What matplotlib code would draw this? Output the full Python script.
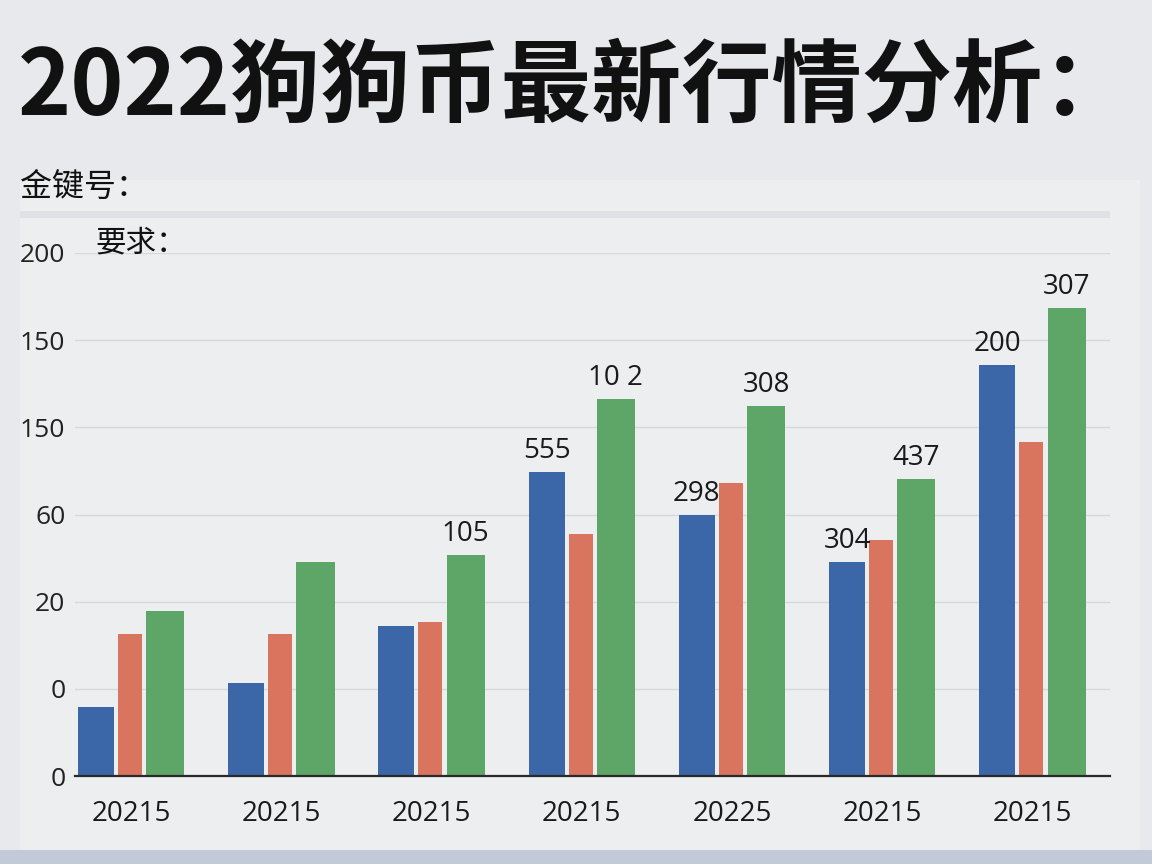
import matplotlib
matplotlib.use("Agg")
import matplotlib.pyplot as plt
from matplotlib.patches import Rectangle
import numpy as np

plt.rcParams['font.family'] = ['Noto Sans CJK SC', 'DejaVu Sans']

# ---- data (heights in gridline units) ----
categories = ["20215", "20215", "20215", "20215", "20225", "20215", "20215"]
blue_vals = [0.79, 1.07, 1.72, 3.49, 2.99, 2.46, 4.71]
red_vals = [1.63, 1.63, 1.77, 2.78, 3.36, 2.71, 3.83]
green_vals = [1.89, 2.45, 2.53, 4.33, 4.24, 3.41, 5.37]
ytick_labels = ["0", "0", "20", "60", "150", "150", "200"]
blue_labels = [None, None, None, "555", "298", "304", "200"]
green_labels = [None, None, "105", "10 2", "308", "437", "307"]

title = "2022狗狗币最新行情分析："
sub1 = "金键号："
sub2 = "要求："

BLUE = "#3b66a7"
RED = "#d9745f"
GREEN = "#5ea568"
NUMFONT = ["Open Sans", "DejaVu Sans"]

W, H = 1152, 864
fig = plt.figure(figsize=(W / 100, H / 100), dpi=100)
fig.patch.set_facecolor("#e8e9ec")

# lighter panel and decorations
fig.add_artist(Rectangle((20 / W, 1 - 850 / H), 1120 / W, 670 / H, transform=fig.transFigure,
                         facecolor="#edeef0", edgecolor="none", zorder=0))
fig.add_artist(Rectangle((0, 0), 1, 14 / H, transform=fig.transFigure,
                         facecolor="#c2c9d8", edgecolor="none", zorder=0))
fig.add_artist(Rectangle((20 / W, 1 - 218 / H), 1090 / W, 7 / H, transform=fig.transFigure,
                         facecolor="#e0e1e4", edgecolor="none", zorder=0))

fig.text(18 / W, 1 - 88 / H, title, fontsize=65, fontweight="heavy", color="#111111",
         ha="left", va="center")
fig.text(20 / W, 1 - 187 / H, sub1, fontsize=23, color="#111111", ha="left", va="center")
fig.text(95 / W, 1 - 243 / H, sub2, fontsize=22, color="#111111", ha="left", va="center")

ax_left, ax_right = 75, 1110
ax_bottom, ax_top = 776, 253
ax = fig.add_axes([ax_left / W, 1 - ax_bottom / H, (ax_right - ax_left) / W,
                   (ax_bottom - ax_top) / H])
ax.set_facecolor("none")

x = np.arange(len(categories))
ax.bar(x - 0.233, blue_vals, width=0.24, color=BLUE, zorder=3)
ax.bar(x - 0.007, red_vals, width=0.16, color=RED, zorder=3)
ax.bar(x + 0.228, green_vals, width=0.253, color=GREEN, zorder=3)

for i, lab in enumerate(blue_labels):
    if lab:
        ax.text(x[i] - 0.233, blue_vals[i] + 0.08, lab, ha="center", va="bottom",
                fontsize=20, color="#1a1a1a", family=NUMFONT, zorder=4)
for i, lab in enumerate(green_labels):
    if lab:
        ax.text(x[i] + 0.228, green_vals[i] + 0.08, lab, ha="center", va="bottom",
                fontsize=20, color="#1a1a1a", family=NUMFONT, zorder=4)

ax.set_xlim(-0.373, 6.517)
ax.set_ylim(0, 6)
ax.set_yticks(range(len(ytick_labels)))
ax.set_yticklabels(ytick_labels, family=NUMFONT, fontsize=19, color="#222222")
ax.set_xticks(x)
ax.set_xticklabels(categories, family=NUMFONT, fontsize=20, color="#1a1a1a")
ax.tick_params(axis="both", length=0)
ax.tick_params(axis="y", pad=7)
ax.tick_params(axis="x", pad=17)
ax.grid(axis="y", color="#d6d8db", linewidth=1.0, zorder=0)
for s in ["top", "right", "left"]:
    ax.spines[s].set_visible(False)
ax.spines["bottom"].set_color("#2a2a2a")
ax.spines["bottom"].set_linewidth(1.6)
ax.spines["bottom"].set_zorder(5)

fig.savefig("out.png", dpi=100, facecolor=fig.get_facecolor())
